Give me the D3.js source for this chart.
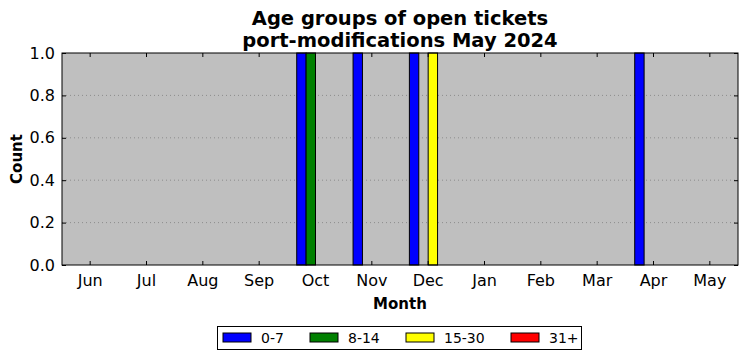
<!DOCTYPE html>
<html><head><meta charset="utf-8">
<script src="https://cdn.jsdelivr.net/npm/d3@7"></script>
<style>body{margin:0;background:#fff}svg{display:block}text{font-family:"DejaVu Sans",sans-serif}</style>
</head><body><svg id="c" width="747" height="361"></svg>
<script>
const months = ["Jun","Jul","Aug","Sep","Oct","Nov","Dec","Jan","Feb","Mar","Apr","May"];
const seriesNames = ["0-7","8-14","15-30","31+"];
const seriesColors = ["#0000ff","#008000","#ffff00","#ff0000"];
const s0_7   = [0,0,0,0,1,1,1,0,0,0,1,0];
const s8_14  = [0,0,0,0,1,0,0,0,0,0,0,0];
const s15_30 = [0,0,0,0,0,0,1,0,0,0,0,0];
const s31    = [0,0,0,0,0,0,0,0,0,0,0,0];
const yTicks = [0,0.2,0.4,0.6,0.8,1.0];
const seriesVals = [s0_7,s8_14,s15_30,s31];

const svg = d3.select("#c");
const L=62,R=738,T=53,B=265;
const x = d3.scaleBand().domain(months).range([L,R]).padding(0);
const y = d3.scaleLinear().domain([0,1]).range([B,T]);
const bw = x.bandwidth()/6;

svg.append("rect").attr("x",L).attr("y",T).attr("width",R-L).attr("height",B-T).attr("fill","#bfbfbf");
// grid
svg.selectAll(".g").data(yTicks.slice(1,-1)).enter().append("line")
  .attr("x1",L).attr("x2",R).attr("y1",d=>y(d)).attr("y2",d=>y(d))
  .attr("stroke","#808080").attr("stroke-width",0.8).attr("stroke-dasharray","1,3");
// bars
seriesVals.forEach((vals,i)=>{
  svg.append("g").selectAll("rect").data(vals.map((v,j)=>({m:months[j],v}))).enter().append("rect")
    .attr("x",d=>x(d.m)+x.bandwidth()/2+(i-2)*bw)
    .attr("width",bw)
    .attr("y",d=>y(d.v))
    .attr("height",d=>B-y(d.v))
    .attr("fill",seriesColors[i]).attr("stroke","#000").attr("stroke-width",1);
});
// axes frame
svg.append("rect").attr("x",L).attr("y",T).attr("width",R-L).attr("height",B-T).attr("fill","none").attr("stroke","#000").attr("stroke-width",1);
// x ticks (inside, top and bottom)
const gx = svg.append("g").attr("transform",`translate(0,${B})`)
  .call(d3.axisBottom(x).tickSizeInner(-4).tickSizeOuter(0).tickPadding(10));
gx.select(".domain").remove();
gx.selectAll("text").attr("font-size",16).attr("fill","#000").attr("font-family","DejaVu Sans");
const gxt = svg.append("g").attr("transform",`translate(0,${T})`)
  .call(d3.axisTop(x).tickSizeInner(-4).tickSizeOuter(0).tickFormat(""));
gxt.select(".domain").remove();
const gy = svg.append("g").attr("transform",`translate(${L},0)`)
  .call(d3.axisLeft(y).tickValues(yTicks).tickFormat(d3.format(".1f")).tickSizeInner(-4).tickSizeOuter(0).tickPadding(7));
gy.select(".domain").remove();
gy.selectAll("text").attr("font-size",16).attr("fill","#000").attr("font-family","DejaVu Sans");
const gyr = svg.append("g").attr("transform",`translate(${R},0)`)
  .call(d3.axisRight(y).tickValues(yTicks).tickSizeInner(-4).tickSizeOuter(0).tickFormat(""));
gyr.select(".domain").remove();
svg.selectAll(".tick line").attr("stroke","#000");

// titles
svg.append("text").attr("x",400).attr("y",25).attr("text-anchor","middle").attr("font-size",19.5).attr("font-weight","bold").text("Age groups of open tickets");
svg.append("text").attr("x",400).attr("y",47).attr("text-anchor","middle").attr("font-size",19.5).attr("font-weight","bold").text("port-modifications May 2024");
svg.append("text").attr("x",400).attr("y",309).attr("text-anchor","middle").attr("font-size",15).attr("font-weight","bold").text("Month");
svg.append("text").attr("transform","translate(22,159) rotate(-90)").attr("text-anchor","middle").attr("font-size",15).attr("font-weight","bold").text("Count");

// legend
const lg = svg.append("g");
lg.append("rect").attr("x",217.5).attr("y",326.5).attr("width",364).attr("height",23).attr("fill","#fff").attr("stroke","#000");
const lx = [223,310,406,511];
seriesNames.forEach((n,i)=>{
  lg.append("rect").attr("x",lx[i]).attr("y",333).attr("width",28).attr("height",9).attr("fill",seriesColors[i]).attr("stroke","#000").attr("stroke-width",1);
  lg.append("text").attr("x",lx[i]+38).attr("y",343).attr("font-size",14).text(n);
});
</script></body></html>
